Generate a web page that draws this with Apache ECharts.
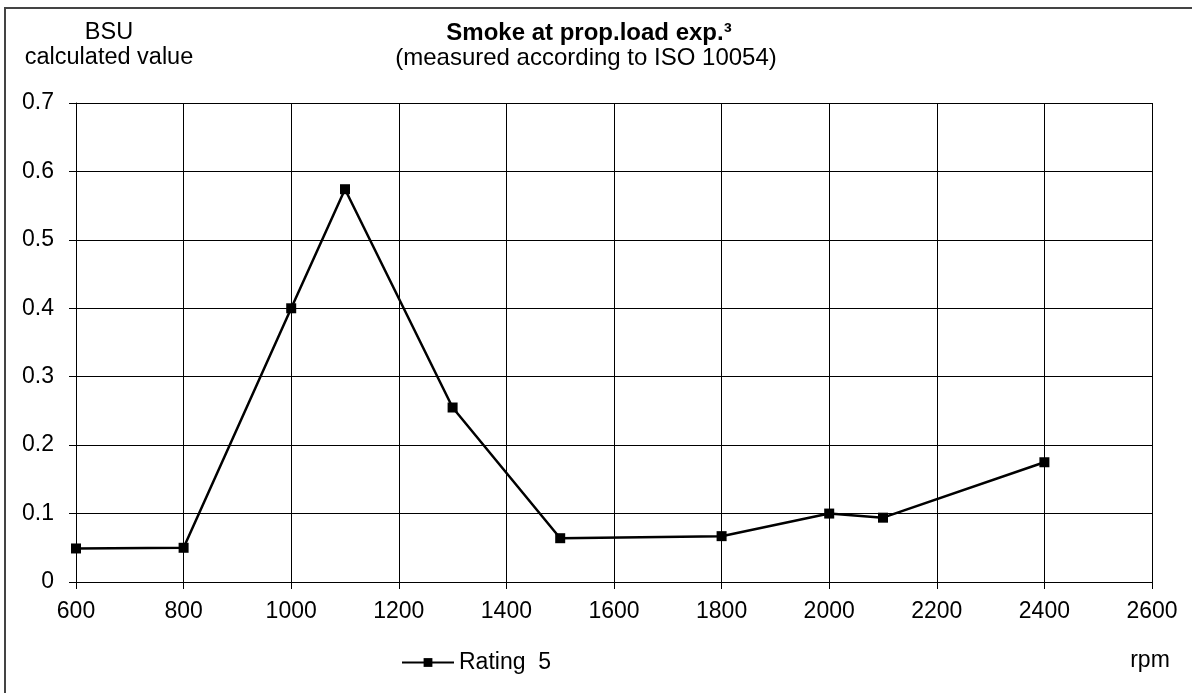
<!DOCTYPE html>
<html><head><meta charset="utf-8">
<script src="https://cdn.jsdelivr.net/npm/echarts@6/dist/echarts.min.js"></script>
<style>html,body{margin:0;padding:0;background:#fff}#c{width:1192px;height:693px}</style>
</head><body><div id="c"></div>
<script>
const rpm = [600, 800, 1000, 1100, 1300, 1500, 1800, 2000, 2100, 2400];
const bsu = [0.049, 0.050, 0.400, 0.574, 0.255, 0.064, 0.067, 0.100, 0.094, 0.175];
const seriesName = 'Rating  5';
const titleText = 'Smoke at prop.load exp.³';
const subtitleText = '(measured according to ISO 10054)';
const yName = ['BSU', 'calculated value'];
const xName = 'rpm';

const F = '"Liberation Sans", Arial, sans-serif';
const chart = echarts.init(document.getElementById('c'), null, {renderer: 'canvas'});
chart.setOption({
  backgroundColor: '#fff',
  animation: false,
  textStyle: {fontFamily: F},
  graphic: [
    {type: 'rect', shape: {x: 5, y: 8, width: 3000, height: 3000}, style: {fill: 'none', stroke: '#444', lineWidth: 2}, silent: true},
    {type: 'text', style: {text: titleText, x: 589, y: 33, font: 'bold 24px ' + F, fill: '#000', align: 'center', verticalAlign: 'middle'}},
    {type: 'text', style: {text: subtitleText, x: 586, y: 58, font: '24px ' + F, fill: '#000', align: 'center', verticalAlign: 'middle'}},
    {type: 'text', style: {text: yName[0], x: 109, y: 33, font: '23.5px ' + F, fill: '#000', align: 'center', verticalAlign: 'middle'}},
    {type: 'text', style: {text: yName[1], x: 109, y: 58, font: '23.5px ' + F, fill: '#000', align: 'center', verticalAlign: 'middle'}},
    {type: 'text', style: {text: xName, x: 1150, y: 661, font: '23px ' + F, fill: '#000', align: 'center', verticalAlign: 'middle'}}
  ],
  grid: {left: 76, right: 40, top: 103, bottom: 111, containLabel: false},
  legend: {
    data: [seriesName], left: 396, top: 646, itemWidth: 52, itemHeight: 11, itemGap: 6,
    textStyle: {fontSize: 23, color: '#000', fontFamily: F}
  },
  xAxis: {
    type: 'value', min: 600, max: 2600, interval: 200,
    axisLine: {show: true, lineStyle: {color: '#000', width: 1}},
    axisTick: {show: true, length: 7, lineStyle: {color: '#000'}},
    axisLabel: {fontSize: 23, color: '#000', margin: 18, fontFamily: F, formatter: v => String(v)},
    splitLine: {show: true, lineStyle: {color: '#000', width: 1}}
  },
  yAxis: {
    type: 'value', min: 0, max: 0.7, interval: 0.1,
    axisLine: {show: true, lineStyle: {color: '#000', width: 1}},
    axisTick: {show: true, length: 7, lineStyle: {color: '#000'}},
    axisLabel: {fontSize: 23, color: '#000', margin: 22, fontFamily: F, formatter: v => String(+v.toFixed(1))},
    splitLine: {show: true, lineStyle: {color: '#000', width: 1}}
  },
  series: [{
    name: seriesName, type: 'line',
    data: rpm.map((x, i) => [x, bsu[i]]),
    symbol: 'rect', symbolSize: 10,
    lineStyle: {color: '#000', width: 2.5},
    itemStyle: {color: '#000'}
  }]
});
</script></body></html>
